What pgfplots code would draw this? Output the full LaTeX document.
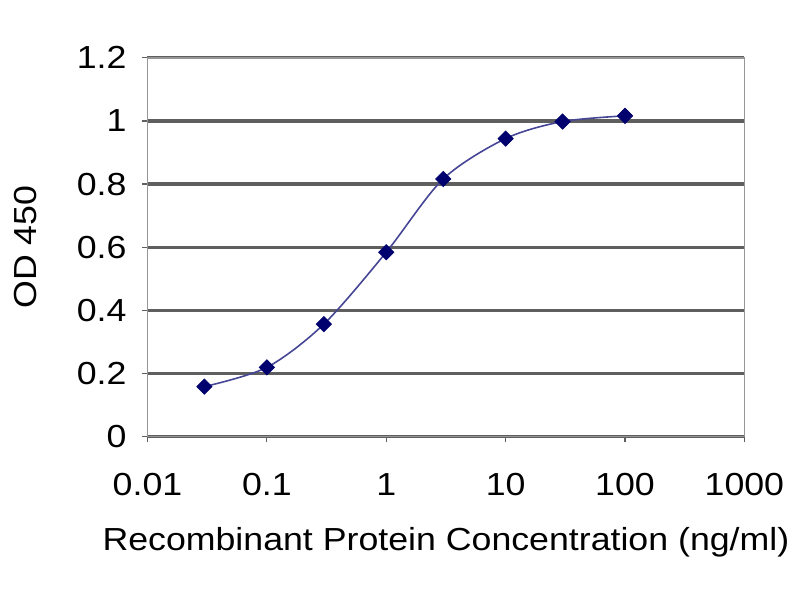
\documentclass[border=0pt]{standalone}
\usepackage{fontspec}
\setmainfont{Liberation Sans}[FakeStretch=1.12]
\usepackage{pgfplots}
\pgfplotsset{compat=1.18}
\definecolor{gridc}{RGB}{95,95,95}
\definecolor{framec}{RGB}{150,150,150}
\definecolor{linec}{RGB}{70,70,150}
\definecolor{markc}{RGB}{0,0,110}
\begin{document}
\fontsize{16}{19}\selectfont
\begin{tikzpicture}
\begin{axis}[
  at={(0,0)}, anchor=south west,
  scale only axis,
  width=299.5pt, height=190pt,
  xmode=log,
  xmin=0.01, xmax=1000,
  ymin=0, ymax=1.2,
  xtick={0.01,0.1,1,10,100,1000},
  xticklabels={0.01,0.1,1,10,100,1000},
  ytick={0,0.2,0.4,0.6,0.8,1,1.2},
  yticklabels={0,0.2,0.4,0.6,0.8,1,1.2},
  xminorticks=false, yminorticks=false,
  tick align=outside,
  major tick length=3pt,
  tick style={gridc, line width=0.6pt},
  xtick pos=bottom, ytick pos=left,
  axis line style={framec, line width=0.8pt},
  ymajorgrids,
  grid style={gridc, line width=1.6pt},
  xmajorgrids=false,
  xticklabel style={font=\fontsize{16}{19}\selectfont, yshift=-10pt},
  yticklabel style={font=\fontsize{16}{19}\selectfont, xshift=-2pt},
  xlabel={Recombinant Protein Concentration (ng/ml)},
  ylabel={OD 450},
  xlabel style={font=\fontsize{16}{19}\selectfont, at={(axis description cs:0.5,-0.3)}, anchor=base},
  ylabel style={font=\fontsize{16}{19}\selectfont, at={(axis description cs:-0.205,0.5)}, anchor=center},
  clip=false,
]
\addplot[linec, line width=0.8pt, smooth, tension=0.5,
  mark=square*, mark size=2.7pt,
  mark options={fill=markc, draw=markc, line width=0.4pt, rotate=45}]
  coordinates {
  (0.03,0.158)
  (0.1,0.219)
  (0.3,0.356)
  (1,0.584)
  (3,0.816)
  (10,0.944)
  (30,0.998)
  (100,1.016)
  };
\end{axis}
\useasboundingbox (-74pt,-81pt) rectangle (326pt,219pt);
\end{tikzpicture}
\end{document}
